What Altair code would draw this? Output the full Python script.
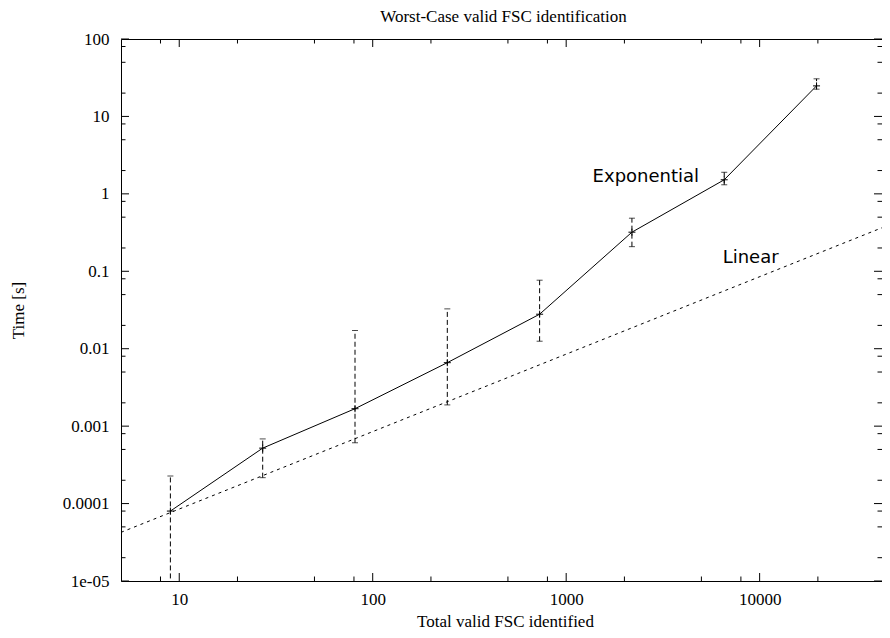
import altair as alt
import pandas as pd
import math

# ---- data ----
n_fsc = [9, 27, 81, 243, 729, 2187, 6561, 19683]
time_mean = [8.0e-5, 5.2e-4, 1.68e-3, 6.6e-3, 0.0279, 0.32, 1.52, 24.8]
time_low = [1e-6, 2.16e-4, 6.1e-4, 1.88e-3, 0.0125, 0.208, 1.31, 22.5]
time_high = [2.27e-4, 6.84e-4, 0.0172, 0.0327, 0.0767, 0.485, 1.9, 30.6]

linear_x = [5, 42900]
linear_y = [4.25e-5, 0.365]

x_major = [10, 100, 1000, 10000]
x_minor = [8, 20, 50, 80, 200, 500, 800, 2000, 5000, 8000, 20000]
y_major = [1e-5, 1e-4, 1e-3, 1e-2, 0.1, 1, 10, 100]
y_major_labels = ["1e-05", "0.0001", "0.001", "0.01", "0.1", "1", "10", "100"]
y_minor = [2e-5, 5e-5, 8e-5, 2e-4, 5e-4, 8e-4, 2e-3, 5e-3, 8e-3, 0.02, 0.05, 0.08,
           0.2, 0.5, 0.8, 2, 5, 8, 20, 50, 80]

labels_text = ["Exponential", "Linear"]
labels_x = [1370, 6440]
labels_y = [1.42, 0.129]

title_text = ["Worst-Case valid FSC identification"]

W, H = 761, 542
SERIF = "Liberation Serif"

main = pd.DataFrame({"x": n_fsc, "y": time_mean, "lo": time_low, "hi": time_high})
lin = pd.DataFrame({"x": linear_x, "y": linear_y})
xmaj = pd.DataFrame({"x": x_major})
xmin = pd.DataFrame({"x": x_minor})
ymaj = pd.DataFrame({"y": y_major})
ymin = pd.DataFrame({"y": y_minor})
lab = pd.DataFrame({"x": labels_x, "y": labels_y, "t": labels_text})
ttl = pd.DataFrame({"t": title_text})

# label expression for y axis built from the label list
expr = "''"
for v, s in zip(reversed(y_major), reversed(y_major_labels)):
    expr = f"abs(log(datum.value)/LN10 - ({math.log10(v)})) < 0.01 ? '{s}' : ({expr})"

xscale = alt.Scale(type="log", domain=[5, 42900])
yscale = alt.Scale(type="log", domain=[1e-5, 100])

xaxis = alt.Axis(values=x_major, format="d", title="Total valid FSC identified",
                 grid=False, domain=False, ticks=False, tickSize=0, labelPadding=10,
                 labelFont=SERIF, labelFontSize=17, labelColor="black",
                 titleFont=SERIF, titleFontSize=17, titleFontWeight="normal", titleColor="black",
                 titleBaseline="middle", titleY=40, titleX=384, labelFlush=False)
yaxis = alt.Axis(values=y_major, labelExpr=expr, title="Time [s]",
                 grid=False, domain=False, ticks=False, tickSize=0, labelPadding=12,
                 labelFont=SERIF, labelFontSize=17, labelColor="black",
                 titleFont=SERIF, titleFontSize=17, titleFontWeight="normal", titleColor="black",
                 titleBaseline="middle", titleX=-103, titleY=H / 2, labelFlush=False)

X = alt.X("x:Q", scale=xscale, axis=xaxis)
Y = alt.Y("y:Q", scale=yscale, axis=yaxis)

exp_line = alt.Chart(main).mark_line(color="black", strokeWidth=1, clip=True).encode(x=X, y=Y)
err = alt.Chart(main).mark_rule(color="black", strokeWidth=1, strokeDash=[5, 3], clip=True).encode(
    x=X, y=alt.Y("lo:Q", scale=yscale, axis=yaxis), y2="hi:Q")
cap_hi = alt.Chart(main).mark_tick(color="black", orient="horizontal", size=6, thickness=1, clip=True).encode(
    x=X, y=alt.Y("hi:Q", scale=yscale, axis=yaxis))
cap_lo = alt.Chart(main).mark_tick(color="black", orient="horizontal", size=6, thickness=1, clip=True).encode(
    x=X, y=alt.Y("lo:Q", scale=yscale, axis=yaxis))
plus = alt.Chart(main).mark_point(shape="M-1,0L1,0M0,-1L0,1", size=49, filled=False,
                                  color="black", strokeWidth=1, opacity=1).encode(x=X, y=Y)
lin_line = alt.Chart(lin).mark_line(color="black", strokeWidth=1, strokeDash=[3, 4], clip=True).encode(x=X, y=Y)

texts = alt.Chart(lab).mark_text(align="left", baseline="alphabetic", font="DejaVu Sans",
                                 fontSize=18, color="black").encode(x=X, y=Y, text="t:N")

title_mark = alt.Chart(ttl).mark_text(align="center", baseline="alphabetic", font=SERIF,
                                      fontSize=17, color="black").encode(
    x=alt.value(382.5), y=alt.value(-17), text="t:N")

MAJ, MIN = 8, 4.5
xt_b = alt.Chart(xmaj).mark_rule(color="black").encode(x=X, y=alt.value(H), y2=alt.value(H - MAJ))
xt_t = alt.Chart(xmaj).mark_rule(color="black").encode(x=X, y=alt.value(0), y2=alt.value(MAJ))
xm_b = alt.Chart(xmin).mark_rule(color="black").encode(x=X, y=alt.value(H), y2=alt.value(H - MIN))
xm_t = alt.Chart(xmin).mark_rule(color="black").encode(x=X, y=alt.value(0), y2=alt.value(MIN))
yt_l = alt.Chart(ymaj).mark_rule(color="black").encode(y=Y, x=alt.value(0), x2=alt.value(MAJ))
yt_r = alt.Chart(ymaj).mark_rule(color="black").encode(y=Y, x=alt.value(W), x2=alt.value(W - MAJ))
ym_l = alt.Chart(ymin).mark_rule(color="black").encode(y=Y, x=alt.value(0), x2=alt.value(MIN))
ym_r = alt.Chart(ymin).mark_rule(color="black").encode(y=Y, x=alt.value(W), x2=alt.value(W - MIN))

chart = alt.layer(
    xt_b, xt_t, xm_b, xm_t, yt_l, yt_r, ym_l, ym_r,
    lin_line, err, cap_hi, cap_lo, exp_line, plus, texts, title_mark
).properties(
    width=W, height=H,
    autosize=alt.AutoSizeParams(type="none"),
    padding={"left": 113, "top": 31, "right": 0, "bottom": 49},
).configure_view(stroke="black", strokeWidth=1)

chart.save("out.html", embed_options={"renderer": "svg", "actions": False})
